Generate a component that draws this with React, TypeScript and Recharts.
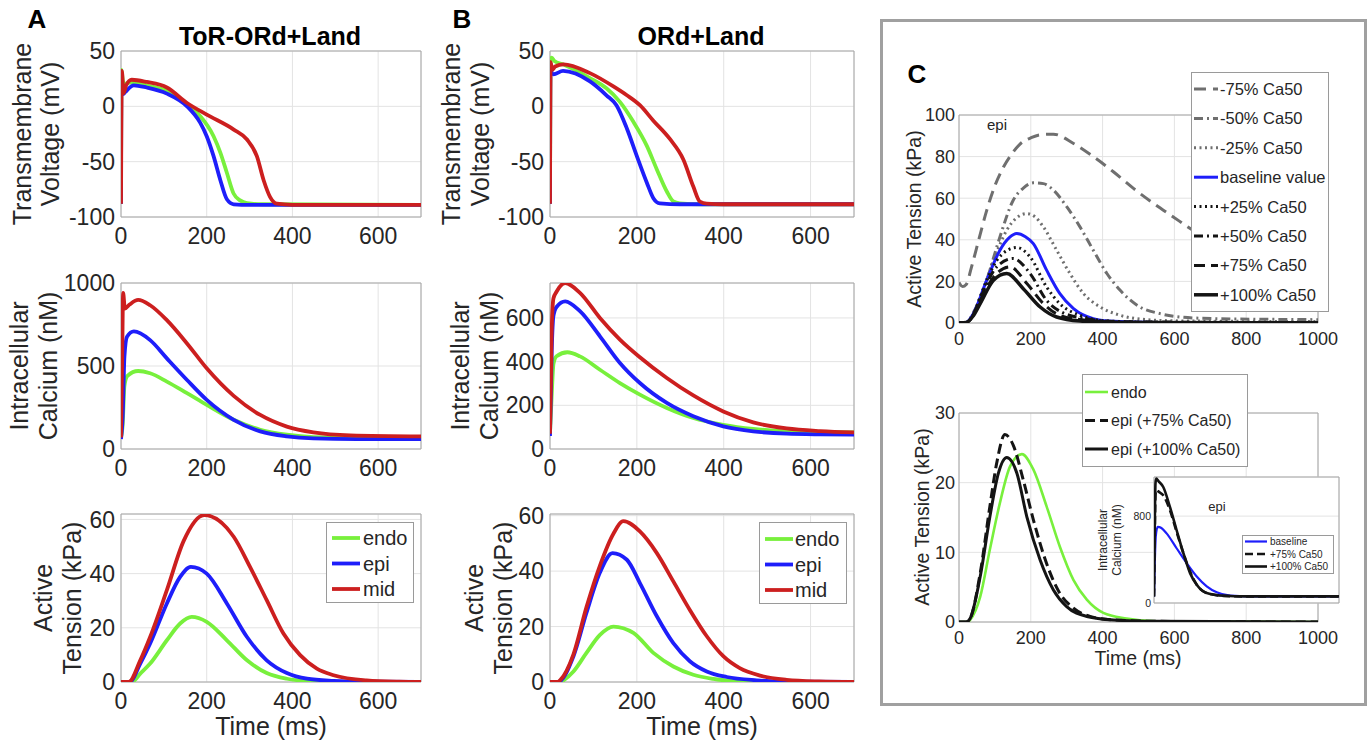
import React from "react";
import { CartesianGrid, Line, LineChart, ReferenceArea, XAxis, YAxis } from "recharts";

type Pt = [number, number];

// [time ms, value] pairs

// A: ToR-ORd+Land
const aVmEndo: Pt[] = [[0, -88], [1, 33], [3, 27], [6, 20], [15, 21], [30, 22], [60, 19], [107, 14], [154, 1.5], [185, -9], [216, -27], [232, -42], [247, -60], [263, -79], [278, -85], [294, -87.5], [330, -88.5], [700, -89]];
const aVmEpi: Pt[] = [[0, -88], [1, 30], [3, 18], [5, 11], [10, 13], [30, 19], [60, 17], [107, 11.5], [154, 0], [185, -15], [200, -27], [216, -45], [232, -67], [247, -84], [263, -88.5], [300, -89], [700, -89]];
const aVmMid: Pt[] = [[0, -88], [2, 32], [6, 12], [12, 19], [25, 24], [60, 22], [107, 17], [154, 3], [200, -7.5], [263, -21], [294, -30], [317, -45], [333, -67], [348, -82], [364, -88], [400, -89], [700, -89]];

const aCaEndo: Pt[] = [[0, 70], [4, 150], [8, 380], [15, 440], [40, 470], [68, 456], [107, 406], [154, 336], [200, 266], [263, 176], [325, 116], [387, 86], [449, 72], [550, 68], [700, 68]];
const aCaEpi: Pt[] = [[0, 60], [4, 200], [8, 556], [14, 676], [30, 708], [68, 656], [107, 546], [154, 416], [200, 296], [263, 176], [325, 106], [387, 76], [449, 64], [550, 60], [700, 60]];
const aCaMid: Pt[] = [[0, 70], [3, 600], [5, 940], [9, 846], [20, 870], [40, 898], [68, 866], [107, 776], [154, 636], [200, 486], [263, 320], [325, 205], [387, 135], [449, 100], [535, 82], [700, 76]];

const aTaEndo: Pt[] = [[0, 0], [25, 0], [45, 3.1], [68, 6.8], [107, 15.4], [138, 21.6], [165, 24], [200, 22.2], [247, 15.4], [294, 8], [340, 3.3], [387, 1.2], [434, 0.4], [500, 0.1], [700, 0]];
const aTaEpi: Pt[] = [[0, 0], [20, 0], [45, 6.8], [68, 14.2], [107, 29], [138, 38.8], [163, 42.5], [200, 40], [247, 29], [294, 16.6], [340, 8], [387, 3.3], [434, 1.2], [496, 0.4], [560, 0.1], [700, 0]];
const aTaMid: Pt[] = [[0, 0], [18, 0], [45, 8], [68, 16.6], [107, 33.9], [146, 52], [194, 61.6], [263, 53.6], [301, 42.5], [340, 30.2], [379, 17.9], [418, 9.9], [457, 4.9], [496, 2.5], [573, 0.6], [650, 0.1], [700, 0]];

// B: ORd+Land
const bVmEndo: Pt[] = [[0, -88], [1, 42], [4, 44], [10, 41], [31, 37.8], [92, 25.5], [130, 16.3], [161, 4], [192, -14], [223, -35.7], [246, -57], [269, -77], [284, -86], [299, -87.7], [350, -88.5], [700, -88.5]];
const bVmEpi: Pt[] = [[0, -88], [1, 38], [4, 30], [8, 29], [30, 32], [92, 22.5], [130, 10], [153, 1], [177, -20], [200, -45], [223, -69], [238, -83], [253, -87.7], [300, -88.5], [700, -88.5]];
const bVmMid: Pt[] = [[0, -88], [1.5, 40], [5, 33], [12, 36], [31, 38], [92, 30], [146, 18], [177, 10], [207, 1], [238, -13], [276, -29.5], [307, -48], [330, -72.5], [345, -86], [361, -88], [400, -88.5], [700, -88.5]];

const bCaEndo: Pt[] = [[0, 70], [4, 250], [8, 390], [15, 425], [40, 443], [69, 424], [115, 363], [161, 302], [207, 249], [269, 188], [330, 142], [399, 111], [468, 92], [545, 81], [622, 78], [700, 76]];
const bCaEpi: Pt[] = [[0, 60], [4, 450], [8, 610], [15, 650], [35, 676], [69, 631], [115, 516], [161, 394], [207, 302], [269, 211], [330, 150], [399, 104], [468, 81], [545, 70], [622, 67], [700, 66]];
const bCaMid: Pt[] = [[0, 70], [4, 550], [8, 690], [15, 720], [35, 760], [69, 715], [115, 600], [161, 501], [207, 420], [269, 325], [330, 245], [399, 172], [468, 122], [545, 94], [622, 82], [700, 76]];

const bTaEndo: Pt[] = [[0, 0], [25, 0], [31, 0.6], [54, 3.8], [84, 10.5], [115, 17], [146, 20], [192, 17.7], [238, 10.5], [284, 5.6], [330, 2.6], [376, 1.1], [437, 0.2], [500, 0], [700, 0]];
const bTaEpi: Pt[] = [[0, 0], [18, 0], [54, 9.3], [84, 25], [115, 39.5], [144, 46.5], [177, 44.1], [207, 35.7], [246, 23.7], [284, 14], [322, 7.5], [361, 3.8], [407, 1.8], [476, 0.6], [550, 0.1], [700, 0]];
const bTaMid: Pt[] = [[0, 0], [18, 0], [23, 0.6], [54, 10], [84, 27], [115, 42], [146, 53.5], [169, 58], [207, 54.3], [246, 46.5], [284, 36.3], [322, 26], [361, 16.5], [399, 9.3], [437, 5], [484, 2.3], [545, 0.8], [620, 0.2], [700, 0]];

// C top: epi tension vs Ca50 scaling
const cM75: Pt[] = [[0, 19.5], [10, 17.5], [20, 18.5], [35, 27], [55, 40], [77, 54], [100, 66], [124, 75], [150, 82], [170, 86], [200, 89], [226, 90.5], [263, 90.8], [319, 86.3], [374, 80], [430, 72.7], [486, 64.7], [542, 57.5], [597, 51], [644, 45.4], [700, 39.5], [800, 31], [900, 24.5], [1000, 19.5]];
const cM50: Pt[] = [[0, 0], [20, 0.3], [40, 5], [59, 12], [77, 20.5], [114, 41.4], [151, 59], [180, 65], [207, 67.4], [235, 67], [263, 63.9], [300, 55.9], [337, 46.2], [374, 35], [412, 23.8], [449, 15.7], [504, 7.7], [560, 4.5], [616, 2.9], [709, 2.1], [850, 1.8], [1000, 1.6]];
const cM25: Pt[] = [[0, 0], [20, 0.2], [40, 4], [59, 12.5], [96, 30], [133, 44.6], [160, 50.5], [189, 52.6], [212, 51], [235, 46.2], [272, 35], [309, 23.8], [347, 14.1], [393, 7.7], [449, 3.7], [523, 1.6], [616, 1], [800, 0.8], [1000, 0.7]];
const cBase: Pt[] = [[0, 0], [20, 0.2], [40, 4.5], [77, 20.5], [114, 35], [140, 41], [161, 43], [185, 41.5], [207, 38.2], [244, 25.4], [281, 14.1], [319, 6.9], [374, 2.1], [430, 0.8], [550, 0.3], [1000, 0.2]];
const cP25: Pt[] = [[0, 0], [20, 0.2], [40, 4], [59, 12.5], [105, 30], [135, 35], [161, 36.3], [198, 31.8], [244, 17.3], [281, 9.3], [337, 3.7], [412, 1], [550, 0.3], [1000, 0.2]];
const cP50: Pt[] = [[0, 0], [20, 0.2], [40, 4], [59, 11.7], [105, 27], [151, 31], [198, 23.8], [244, 10.9], [291, 4.8], [356, 2.1], [450, 0.6], [1000, 0.2]];
const cP75: Pt[] = [[0, 0], [20, 0.2], [40, 4], [59, 10.9], [105, 23.8], [142, 27], [189, 19], [235, 9.3], [281, 3.7], [356, 1.3], [450, 0.4], [1000, 0.1]];
const cP100: Pt[] = [[0, 0], [20, 0.2], [40, 3.5], [59, 9.3], [96, 20.5], [133, 23.8], [179, 16.5], [226, 7.7], [272, 2.9], [337, 1], [450, 0.3], [1000, 0.1]];

// C bottom: endo vs scaled epi
const dEndo: Pt[] = [[0, 0], [25, 0], [31, 0.3], [59, 3.6], [86, 10.4], [114, 17.1], [142, 22.3], [175, 24.1], [207, 21.9], [244, 16.6], [281, 10.8], [319, 6], [356, 3.2], [402, 1.3], [467, 0.5], [550, 0.1], [1000, 0]];
const dEpi75: Pt[] = [[0, 0], [20, 0], [31, 0.5], [59, 7], [86, 16.6], [105, 22.8], [128, 26.9], [151, 25.4], [179, 20.4], [207, 14.7], [244, 8.4], [281, 4.1], [319, 2], [365, 0.8], [430, 0.3], [550, 0.1], [1000, 0]];
const dEpi100: Pt[] = [[0, 0], [20, 0], [31, 0.5], [59, 6.5], [86, 15.1], [110, 21.4], [133, 23.6], [161, 21.4], [189, 15.1], [226, 8.9], [263, 4.6], [300, 2.2], [356, 0.8], [430, 0.3], [550, 0.1], [1000, 0]];

// C inset: epi calcium
const iBase: Pt[] = [[0, 60], [4, 350], [10, 620], [20, 700], [40, 690], [68, 641], [122, 504], [177, 366], [231, 244], [285, 153], [339, 98], [411, 67], [519, 61], [1000, 60]];
const iP75: Pt[] = [[0, 60], [4, 600], [8, 1000], [12, 1040], [25, 1025], [50, 992], [86, 855], [122, 656], [159, 458], [195, 290], [231, 168], [285, 92], [375, 66], [500, 61], [1000, 61]];
const iP100: Pt[] = [[0, 60], [4, 700], [8, 1100], [12, 1145], [25, 1120], [50, 1068], [86, 885], [122, 672], [159, 458], [195, 275], [231, 168], [285, 92], [375, 67], [500, 61], [1000, 61]];

const msTicks = [0, 200, 400, 600];
const cTicks = [0, 200, 400, 600, 800, 1000];
const insetTicks = [0, 100, 200, 300, 400, 500, 600, 700, 800, 900, 1000];

const FONT = '"Liberation Sans", Arial, Helvetica, sans-serif';
const INK = "#262626";
const GREEN = "#78f03c";
const BLUE = "#1e1efa";
const RED = "#cc1f1f";
const GRAY = "#6f6f6f";
const BLACK = "#141414";

type Series = { pts: Pt[]; color: string; width: number; dash?: string; label?: string };

const rows = (pts: Pt[]) => pts.map(([t, v]) => ({ t, v }));

const abSeries = (endo: Pt[], epi: Pt[], mid: Pt[]): Series[] => [
  { pts: endo, color: GREEN, width: 3.8, label: "endo" },
  { pts: epi, color: BLUE, width: 3.8, label: "epi" },
  { pts: mid, color: RED, width: 3.8, label: "mid" },
];

const cSeries: Series[] = [
  { pts: cM75, color: GRAY, width: 3, dash: "12 7", label: "-75% Ca50" },
  { pts: cM50, color: GRAY, width: 3, dash: "9 4 2 4", label: "-50% Ca50" },
  { pts: cM25, color: GRAY, width: 3, dash: "2 3.5", label: "-25% Ca50" },
  { pts: cBase, color: BLUE, width: 3, label: "baseline value" },
  { pts: cP25, color: BLACK, width: 3, dash: "2 3.5", label: "+25% Ca50" },
  { pts: cP50, color: BLACK, width: 3, dash: "9 4 2 4", label: "+50% Ca50" },
  { pts: cP75, color: BLACK, width: 3, dash: "11 6", label: "+75% Ca50" },
  { pts: cP100, color: BLACK, width: 3.5, label: "+100% Ca50" },
];

const dSeries: Series[] = [
  { pts: dEndo, color: GREEN, width: 2.6, label: "endo" },
  { pts: dEpi75, color: BLACK, width: 3, dash: "10 5", label: "epi (+75% Ca50)" },
  { pts: dEpi100, color: BLACK, width: 3, label: "epi (+100% Ca50)" },
];

const iSeries: Series[] = [
  { pts: iBase, color: BLUE, width: 2.2, label: "baseline" },
  { pts: iP75, color: BLACK, width: 2.6, dash: "8 4", label: "+75% Ca50" },
  { pts: iP100, color: BLACK, width: 2.6, label: "+100% Ca50" },
];

type PanelProps = {
  x: number;
  y: number;
  w: number;
  h: number;
  xDomain: [number, number];
  xTicks: number[];
  yDomain: [number, number];
  yTicks: number[];
  font: number;
  xGap: number;
  yGap: number;
  series: Series[];
  hideX?: boolean;
  bg?: string;
};

function Panel(p: PanelProps) {
  const padL = 70;
  const padT = 18;
  const padR = 30;
  const padB = 36;
  const tickStyle = { fill: INK, fontSize: p.font };
  return (
    <div style={{ position: "absolute", left: p.x - padL, top: p.y - padT }}>
      <LineChart
        width={p.w + padL + padR}
        height={p.h + padT + padB}
        margin={{ top: padT, right: padR, bottom: 0, left: 0 }}
        style={{ overflow: "visible" }}
      >
        <CartesianGrid stroke="#e3e3e3" fill={p.bg} />
        <XAxis
          type="number"
          dataKey="t"
          domain={p.xDomain}
          ticks={p.xTicks}
          interval={0}
          allowDataOverflow
          axisLine={false}
          tickLine={false}
          tickSize={0}
          tickMargin={p.xGap}
          height={padB}
          tick={p.hideX ? false : tickStyle}
        />
        <YAxis
          type="number"
          domain={p.yDomain}
          ticks={p.yTicks}
          interval={0}
          allowDataOverflow
          axisLine={false}
          tickLine={false}
          tickSize={0}
          tickMargin={p.yGap}
          width={padL}
          tick={tickStyle}
        />
        {p.series.map((s, i) => (
          <Line
            key={i}
            data={rows(s.pts)}
            dataKey="v"
            type="monotone"
            stroke={s.color}
            strokeWidth={s.width}
            strokeDasharray={s.dash}
            dot={false}
            activeDot={false}
            isAnimationActive={false}
          />
        ))}
        <ReferenceArea
          x1={p.xDomain[0]}
          x2={p.xDomain[1]}
          y1={p.yDomain[0]}
          y2={p.yDomain[1]}
          fill="none"
          stroke="#a6a6a6"
          strokeWidth={1}
          ifOverflow="visible"
        />
      </LineChart>
    </div>
  );
}

type LegendProps = {
  x: number;
  y: number;
  w: number;
  h: number;
  items: Series[];
  font: number;
  first: number;
  step: number;
  lx: number;
  len: number;
  tx: number;
};

function LegendBox(l: LegendProps) {
  return (
    <g>
      <rect x={l.x + 0.5} y={l.y + 0.5} width={l.w} height={l.h} fill="#fff" stroke="#9a9a9a" />
      {l.items.map((it, i) => {
        const cy = l.y + l.first + i * l.step;
        return (
          <g key={i}>
            <line
              x1={l.x + l.lx}
              x2={l.x + l.lx + l.len}
              y1={cy}
              y2={cy}
              stroke={it.color}
              strokeWidth={it.width}
              strokeDasharray={it.dash}
            />
            <text x={l.x + l.tx} y={cy} dominantBaseline="central" fontSize={l.font} fill={INK}>
              {it.label}
            </text>
          </g>
        );
      })}
    </g>
  );
}

function VLabel({ x, cy, size, children }: { x: number; cy: number; size: number; children: string }) {
  return (
    <text transform={`translate(${x},${cy}) rotate(-90)`} textAnchor="middle" fontSize={size} fill={INK}>
      {children}
    </text>
  );
}

export default function App() {
  const aSer = {
    vm: abSeries(aVmEndo, aVmEpi, aVmMid),
    ca: abSeries(aCaEndo, aCaEpi, aCaMid),
    ta: abSeries(aTaEndo, aTaEpi, aTaMid),
  };
  const bSer = {
    vm: abSeries(bVmEndo, bVmEpi, bVmMid),
    ca: abSeries(bCaEndo, bCaEpi, bCaMid),
    ta: abSeries(bTaEndo, bTaEpi, bTaMid),
  };
  const ab = { xDomain: [0, 700] as [number, number], xTicks: msTicks, font: 23, xGap: 11, yGap: 6 };
  const cc = { xDomain: [0, 1000] as [number, number], xTicks: cTicks, font: 18, xGap: 9, yGap: 4 };

  return (
    <div
      style={{
        position: "absolute",
        left: 0,
        top: 0,
        width: 1369,
        height: 746,
        background: "#fff",
        fontFamily: FONT,
        overflow: "hidden",
      }}
    >
      <Panel {...ab} x={121} y={51} w={300} h={166} yDomain={[-100, 50]} yTicks={[-100, -50, 0, 50]} series={aSer.vm} />
      <Panel {...ab} x={121} y={283} w={300} h={166} yDomain={[0, 1000]} yTicks={[0, 500, 1000]} series={aSer.ca} />
      <Panel {...ab} x={121} y={514} w={300} h={168} yDomain={[0, 62]} yTicks={[0, 20, 40, 60]} series={aSer.ta} />
      <Panel {...ab} x={550} y={51} w={304} h={166} yDomain={[-100, 50]} yTicks={[-100, -50, 0, 50]} series={bSer.vm} />
      <Panel {...ab} x={550} y={283} w={304} h={166} yDomain={[0, 760]} yTicks={[0, 200, 400, 600]} series={bSer.ca} />
      <Panel {...ab} x={550} y={514} w={304} h={168} yDomain={[0, 60.6]} yTicks={[0, 20, 40, 60]} series={bSer.ta} />
      <Panel {...cc} x={959} y={115} w={359} h={208} yDomain={[0, 100]} yTicks={[0, 20, 40, 60, 80, 100]} series={cSeries} />
      <Panel {...cc} x={959} y={413} w={359} h={209} yDomain={[0, 30]} yTicks={[0, 10, 20, 30]} series={dSeries} />
      <Panel
        x={1154}
        y={477}
        w={185}
        h={126}
        xDomain={[0, 1000]}
        xTicks={insetTicks}
        hideX
        yDomain={[0, 1160]}
        yTicks={[0, 800]}
        font={10.5}
        xGap={4}
        yGap={3}
        bg="#fff"
        series={iSeries}
      />

      <svg
        width={1369}
        height={746}
        style={{ position: "absolute", left: 0, top: 0, pointerEvents: "none", fontFamily: FONT }}
      >
        <rect x={881.5} y={20.5} width={484} height={684} fill="none" stroke="#a0a0a0" strokeWidth={3} />

        <text x={37} y={28} textAnchor="middle" fontSize={26} fontWeight="bold" fill="#000">A</text>
        <text x={462} y={28} textAnchor="middle" fontSize={26} fontWeight="bold" fill="#000">B</text>
        <text x={917} y={83} textAnchor="middle" fontSize={26} fontWeight="bold" fill="#000">C</text>

        <text x={270} y={45} textAnchor="middle" fontSize={25} fontWeight="bold" fill="#000">ToR-ORd+Land</text>
        <text x={701} y={45} textAnchor="middle" fontSize={25} fontWeight="bold" fill="#000">ORd+Land</text>

        <VLabel x={31} cy={134} size={25}>Transmembrane</VLabel>
        <VLabel x={59} cy={134} size={25}>Voltage (mV)</VLabel>
        <VLabel x={28} cy={366} size={25}>Intracellular</VLabel>
        <VLabel x={57} cy={366} size={25}>Calcium (nM)</VLabel>
        <VLabel x={52} cy={598} size={25}>Active</VLabel>
        <VLabel x={81} cy={598} size={25}>Tension (kPa)</VLabel>

        <VLabel x={460} cy={134} size={25}>Transmembrane</VLabel>
        <VLabel x={489} cy={134} size={25}>Voltage (mV)</VLabel>
        <VLabel x={469} cy={366} size={25}>Intracellular</VLabel>
        <VLabel x={498} cy={366} size={25}>Calcium (nM)</VLabel>
        <VLabel x={483} cy={598} size={25}>Active</VLabel>
        <VLabel x={512} cy={598} size={25}>Tension (kPa)</VLabel>

        <text x={271} y={735} textAnchor="middle" fontSize={25} fill={INK}>Time (ms)</text>
        <text x={702} y={735} textAnchor="middle" fontSize={25} fill={INK}>Time (ms)</text>

        <VLabel x={921} cy={219} size={19.5}>Active Tension (kPa)</VLabel>
        <VLabel x={929} cy={517} size={19.5}>Active Tension (kPa)</VLabel>
        <text x={1138} y={665} textAnchor="middle" fontSize={19.5} fill={INK}>Time (ms)</text>
        <text x={997} y={130} textAnchor="middle" fontSize={15} fill={INK}>epi</text>

        <VLabel x={1107} cy={540} size={12}>Intracellular</VLabel>
        <VLabel x={1121} cy={540} size={12}>Calcium (nM)</VLabel>
        <text x={1217} y={511} textAnchor="middle" fontSize={13} fill={INK}>epi</text>

        <LegendBox x={326} y={522} w={87} h={80} items={aSer.ta} font={20} first={16} step={25.5} lx={6} len={28} tx={37} />
        <LegendBox x={759} y={522} w={87} h={81} items={bSer.ta} font={20} first={17} step={25.5} lx={6} len={28} tx={36} />
        <LegendBox x={1191} y={72} w={137} h={239} items={cSeries} font={16.5} first={17} step={29.4} lx={3} len={24} tx={29} />
        <LegendBox x={1082} y={374} w={165} h={92} items={dSeries} font={16} first={18} step={28.5} lx={3} len={23} tx={29} />
        <LegendBox x={1242} y={535} w={91} h={38} items={iSeries} font={10} first={6.5} step={12.5} lx={3} len={22} tx={28} />
      </svg>
    </div>
  );
}
